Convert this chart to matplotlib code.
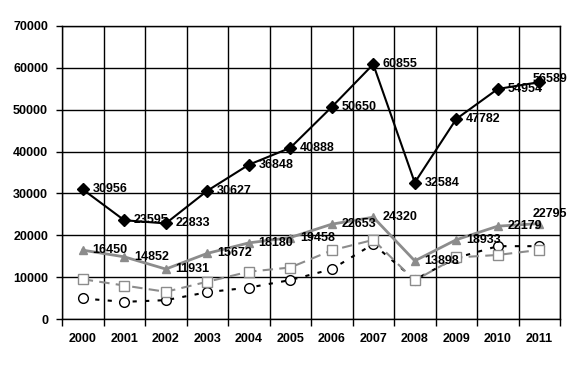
import numpy as np
import matplotlib
matplotlib.use("Agg")
import matplotlib.pyplot as plt
from matplotlib.ticker import MultipleLocator

years = ["2000", "2001", "2002", "2003", "2004", "2005",
         "2006", "2007", "2008", "2009", "2010", "2011"]
black_vals = [30956, 23595, 22833, 30627, 36848, 40888, 50650, 60855, 32584, 47782, 54954, 56589]
gray_vals = [16450, 14852, 11931, 15672, 18180, 19458, 22653, 24320, 13898, 18933, 22179, 22795]
square_vals = [9500, 8000, 6500, 8900, 11300, 12300, 16400, 18900, 9200, 14700, 15300, 16500]
circle_vals = [4900, 4100, 4500, 6400, 7500, 9300, 11900, 17900, 9400, 14600, 17400, 17400]

plt.rcParams["font.family"] = ["Liberation Sans Narrow", "Liberation Sans", "DejaVu Sans"]
plt.rcParams["font.weight"] = "bold"

fig = plt.figure(figsize=(5.76, 3.66), dpi=100)
ax = fig.add_axes([62 / 576, 47 / 366, 498 / 576, 293 / 366])

x = np.arange(len(years))

ax.plot(x, circle_vals, color="black", lw=1.5, ls=(0, (2, 4)),
        marker="o", ms=7, mfc="white", mec="black", mew=1, zorder=3)
ax.plot(x, square_vals, color="#8c8c8c", lw=1.5, ls=(0, (5, 3)),
        marker="s", ms=7, mfc="white", mec="#8c8c8c", mew=1, zorder=3)
ax.plot(x, gray_vals, color="#8c8c8c", lw=2, marker="^", ms=6,
        mfc="#8c8c8c", mec="#8c8c8c", zorder=4)
ax.plot(x, black_vals, color="black", lw=1.5, marker="D", ms=6,
        mfc="black", mec="black", zorder=5)

# data labels to the right of each point; the last one is pulled back inside
for vals, last_dy in ((black_vals, 2), (gray_vals, 7)):
    for i, v in enumerate(vals):
        last = i == len(vals) - 1
        dx, dy = (-5, last_dy) if last else (7, 0)
        ax.annotate(str(v), (x[i], v), xytext=(dx, dy), textcoords="offset points",
                    ha="left", va="center", fontsize=9, fontweight="bold",
                    color="black", zorder=6)

ax.set_xlim(-0.5, len(years) - 0.5)
ax.set_ylim(0, 70000)
ax.yaxis.set_major_locator(MultipleLocator(10000))
ax.set_xticks(x)
ax.set_xticklabels(years)
ax.set_xticks(np.arange(-0.5, len(years)), minor=True)

ax.tick_params(axis="x", which="major", length=0, pad=10, labelsize=9)
ax.tick_params(axis="x", which="minor", length=5, width=1, color="black")
ax.tick_params(axis="y", which="major", length=4, width=1, pad=6, labelsize=9)

ax.grid(True, axis="y", which="major", color="black", lw=1)
ax.grid(True, axis="x", which="minor", color="black", lw=1)
ax.set_axisbelow(True)
for sp in ax.spines.values():
    sp.set_color("black")
    sp.set_linewidth(1)

fig.savefig("out.png", dpi=100)
